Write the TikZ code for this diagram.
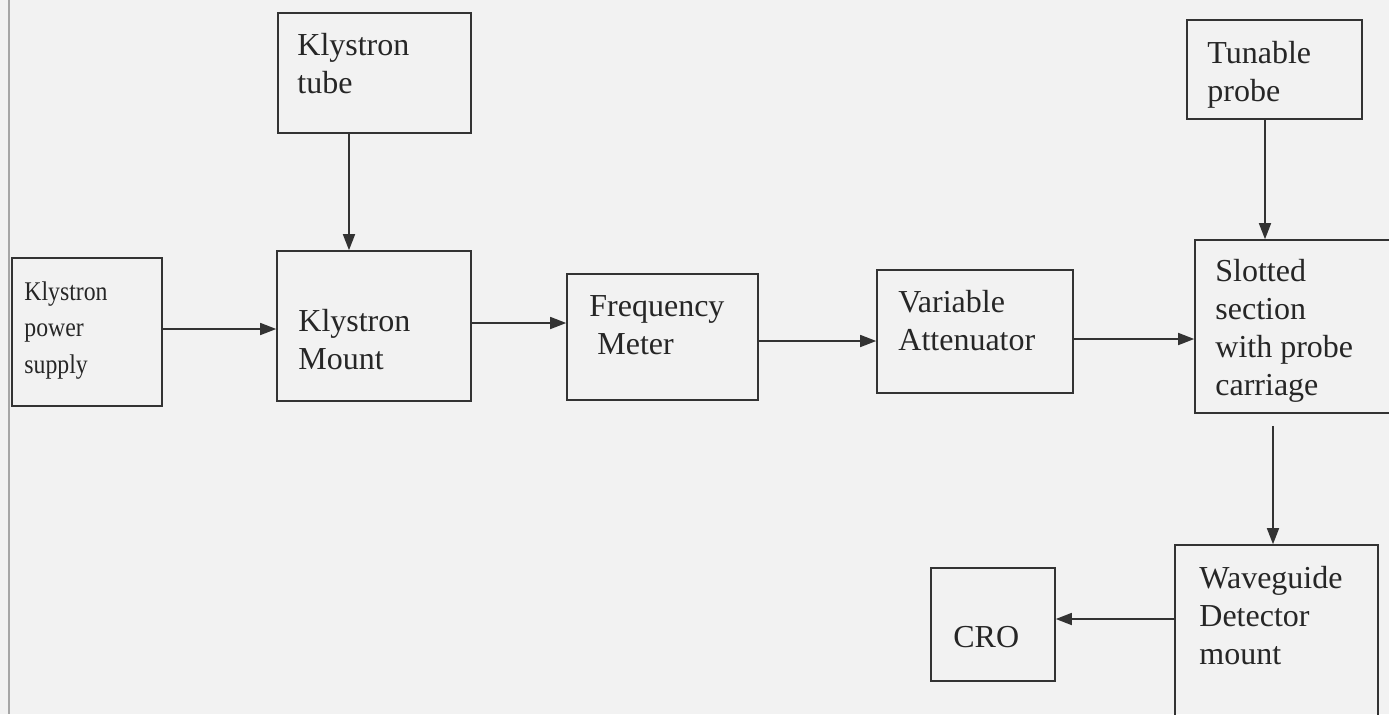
\documentclass[tikz,border=0pt]{standalone}
\usepackage{fontspec}
\setmainfont{Liberation Serif}
\usetikzlibrary{arrows.meta,fit}
\begin{document}
\begin{tikzpicture}[x=0.5pt,y=-0.5pt,
  blk/.style={draw=black!80, line width=0.8pt, inner sep=0pt},
  lbl/.style={anchor=base west, inner sep=0pt, align=left, text=black!85,
              font=\fontsize{16}{19}\selectfont},
  smalllbl/.style={anchor=base west, inner sep=0pt, align=left, text=black!85,
              font=\fontsize{13.5}{18.2}\selectfont},
  flow/.style={draw=black!80, line width=0.8pt,
               -{Triangle[length=8pt,width=6pt]}}]
\useasboundingbox (0,0) rectangle (1389,714);
\clip (0,0) rectangle (1389,714);
\fill[black!5] (0,0) rectangle (1389,714);
\draw[black!35, line width=0.8pt] (9,0) -- (9,714);

% blocks
\node[blk, fit={(12,258) (162,406)}]    (kps) {};
\node[blk, fit={(278,13) (471,133)}]    (kt)  {};
\node[blk, fit={(277,251) (471,401)}]   (km)  {};
\node[blk, fit={(567,274) (758,400)}]   (fm)  {};
\node[blk, fit={(877,270) (1073,393)}]  (va)  {};
\node[blk, fit={(1187,20) (1362,119)}]  (tp)  {};
\node[blk, fit={(1195,240) (1400,413)}] (ss)  {};
\node[blk, fit={(1175,545) (1378,730)}] (wd)  {};
\node[blk, fit={(931,568) (1055,681)}]  (cro) {};

% block texts (anchored on the baseline of the last line)
\node[smalllbl] (kps-t) at (24,373)
  {\scalebox{0.88}[1]{Klystron}\\\scalebox{0.88}[1]{power}\\\scalebox{0.88}[1]{supply}};
\node[lbl] (kt-t)  at (297,93)   {Klystron\\tube};
\node[lbl] (km-t)  at (298,369)  {Klystron\\Mount};
\node[lbl] (fm-t)  at (589,354)  {Frequency\\\hspace*{4pt}Meter};
\node[lbl] (va-t)  at (898,350)  {Variable\\Attenuator};
\node[lbl] (tp-t)  at (1207,101) {Tunable\\probe};
\node[lbl] (ss-t)  at (1215,395) {Slotted\\section\\with probe\\carriage};
\node[lbl] (wd-t)  at (1199,664) {Waveguide\\Detector\\mount};
\node[lbl] (cro-t) at (953,647)  {CRO};

% signal path
\draw[flow] (kps.east |- 0,329) -- (km.west |- 0,329);
\draw[flow] (kt.south -| 349,0) -- (km.north -| 349,0);
\draw[flow] (km.east |- 0,323) -- (fm.west |- 0,323);
\draw[flow] (fm.east |- 0,341) -- (va.west |- 0,341);
\draw[flow] (va.east |- 0,339) -- (ss.west |- 0,339);
\draw[flow] (tp.south -| 1265,0) -- (ss.north -| 1265,0);
\draw[flow, shorten <=6pt] (ss.south -| 1273,0) -- (wd.north -| 1273,0);
\draw[flow] (wd.west |- 0,619) -- (cro.east |- 0,619);
\end{tikzpicture}
\end{document}
